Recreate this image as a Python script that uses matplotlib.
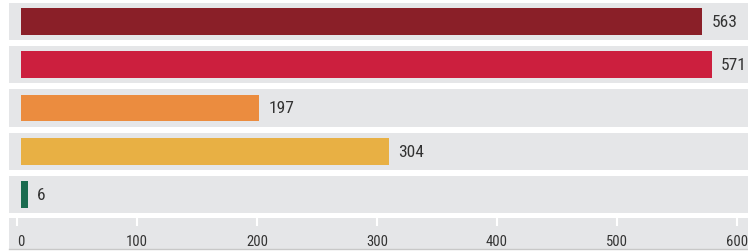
import matplotlib
matplotlib.use("Agg")
import matplotlib.pyplot as plt
from matplotlib import font_manager as fm

categories = ["A", "B", "C", "D", "E"]
values = [563, 571, 197, 304, 6]
colors = ["#8a1f28", "#cc1f3e", "#eb8c3f", "#e8b044", "#1a6b4f"]
ticks = [0, 100, 200, 300, 400, 500, 600]

names = {f.name for f in fm.fontManager.ttflist}
fam = [n for n in ["Roboto Condensed", "Liberation Sans Narrow", "Roboto"] if n in names] + ["DejaVu Sans"]
plt.rcParams['font.family'] = fam

W, H = 748, 253
fig = plt.figure(figsize=(W / 100, H / 100), dpi=100)

band_h = 0.856
bar_h = 0.62

# main bar axes: px y from 4 to 214, x from 9 to 748
ax = fig.add_axes([9 / W, 1 - 214 / H, (W - 9) / W, 210 / H])
ax.set_xlim(-12 / 1.21, -12 / 1.21 + 739 / 1.21)
n = len(values)
ax.set_ylim(n - 1 + band_h / 2, -band_h / 2)
for i in range(n):
    ax.axhspan(i - band_h / 2, i + band_h / 2, color="#e5e6e8", lw=0, zorder=0)
ax.barh(range(n), values, height=bar_h, color=colors, zorder=2)
for i, v in enumerate(values):
    ax.annotate(str(v), (v, i), xytext=(6.5, 0), textcoords="offset points",
                va="center", ha="left", fontsize=12.5, color="#333333")
ax.axis("off")

# axis strip
ax2 = fig.add_axes([9 / W, 1 - 250 / H, (W - 9) / W, 31 / H])
ax2.set_facecolor("#e5e6e8")
ax2.set_xlim(-8 / 1.2, -8 / 1.2 + 739 / 1.2)
ax2.set_ylim(0, 1)
ax2.set_yticks([])
ax2.set_xticks(ticks)
ax2.set_xticklabels([str(t) for t in ticks])
ax2.tick_params(axis="x", top=True, bottom=False, direction="in", color="white",
                length=6, width=1.5, labelbottom=True, labeltop=False,
                pad=-11, labelsize=10.5, labelcolor="#333333")
ax2.get_xticklabels()[0].set_ha("left")
for s in ["top", "left", "right"]:
    ax2.spines[s].set_visible(False)
ax2.spines["bottom"].set_color("#c8c8c8")
ax2.spines["bottom"].set_linewidth(1)

fig.savefig("out.png", dpi=100)
